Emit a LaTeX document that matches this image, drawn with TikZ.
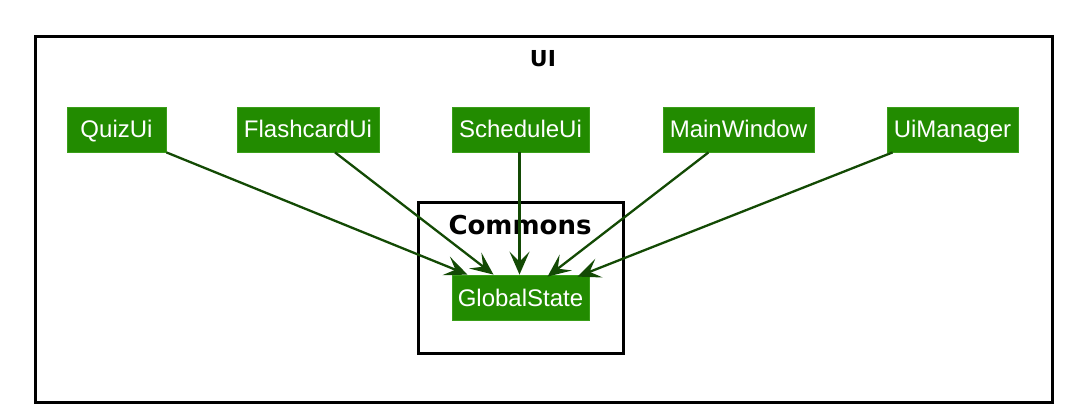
\documentclass[tikz,border=0pt]{standalone}
\usepackage{fontspec}
\setmainfont{Liberation Sans}
\newfontfamily\titlefont{DejaVu Sans}
\usetikzlibrary{arrows.meta,calc}
\definecolor{cls}{HTML}{228B00}
\definecolor{clsborder}{HTML}{3A9E1A}
\definecolor{arr}{HTML}{134A04}
\tikzset{
  cbox/.style={fill=cls, draw=clsborder, line width=0.8pt, text=white, minimum height=45pt, inner sep=0pt,
    text height=17pt, text depth=0pt, font=\fontsize{24}{27}\selectfont},
  pkg/.style={draw=black, line width=3pt, inner sep=0pt},
  dep/.style={draw=arr, line width=2.3pt, -{Stealth[length=23pt,width=20pt,inset=10pt]}},
  ptitle/.style={font=\titlefont\bfseries\fontsize{22}{26}\selectfont, anchor=base}
}
\begin{document}
\begin{tikzpicture}[x=1pt,y=-1pt]
\useasboundingbox (0,0) rectangle (1068,414);
\fill[white] (0,0) rectangle (1068,414);
\node[pkg, minimum width=1017pt, minimum height=365pt] (ui) at (543.5,219.5) {};
\node[ptitle] (uit) at (543,67) {UI};
\node[pkg, minimum width=205pt, minimum height=150pt] (commons) at (520.5,278) {};
\node[ptitle, font=\titlefont\bfseries\fontsize{26}{30}\selectfont] (comt) at (520,234) {Commons};
\node[cbox, minimum width=99pt] (quiz) at (116.5,129.5) {QuizUi};
\node[cbox, minimum width=142pt] (flash) at (308,129.5) {FlashcardUi};
\node[cbox, minimum width=137pt] (sched) at (520.5,129.5) {ScheduleUi};
\node[cbox, minimum width=151pt] (main) at (738.5,129.5) {MainWindow};
\node[cbox, minimum width=131pt] (mgr) at (952.5,129.5) {UiManager};
\node[cbox, minimum width=137pt] (gs) at (520.5,297.5) {GlobalState};
\draw[dep] (quiz.south east) -- ([xshift=-53pt]gs.north);
\draw[dep] ([xshift=27pt]flash.south) -- ([xshift=-27pt]gs.north);
\draw[dep] ([xshift=-1pt]sched.south) -- ([xshift=-1pt]gs.north);
\draw[dep] ([xshift=-30pt]main.south) -- ([xshift=27pt,yshift=-2pt]gs.north);
\draw[dep] ([xshift=6pt]mgr.south west) -- ([xshift=57pt,yshift=-2pt]gs.north);
\end{tikzpicture}
\end{document}
